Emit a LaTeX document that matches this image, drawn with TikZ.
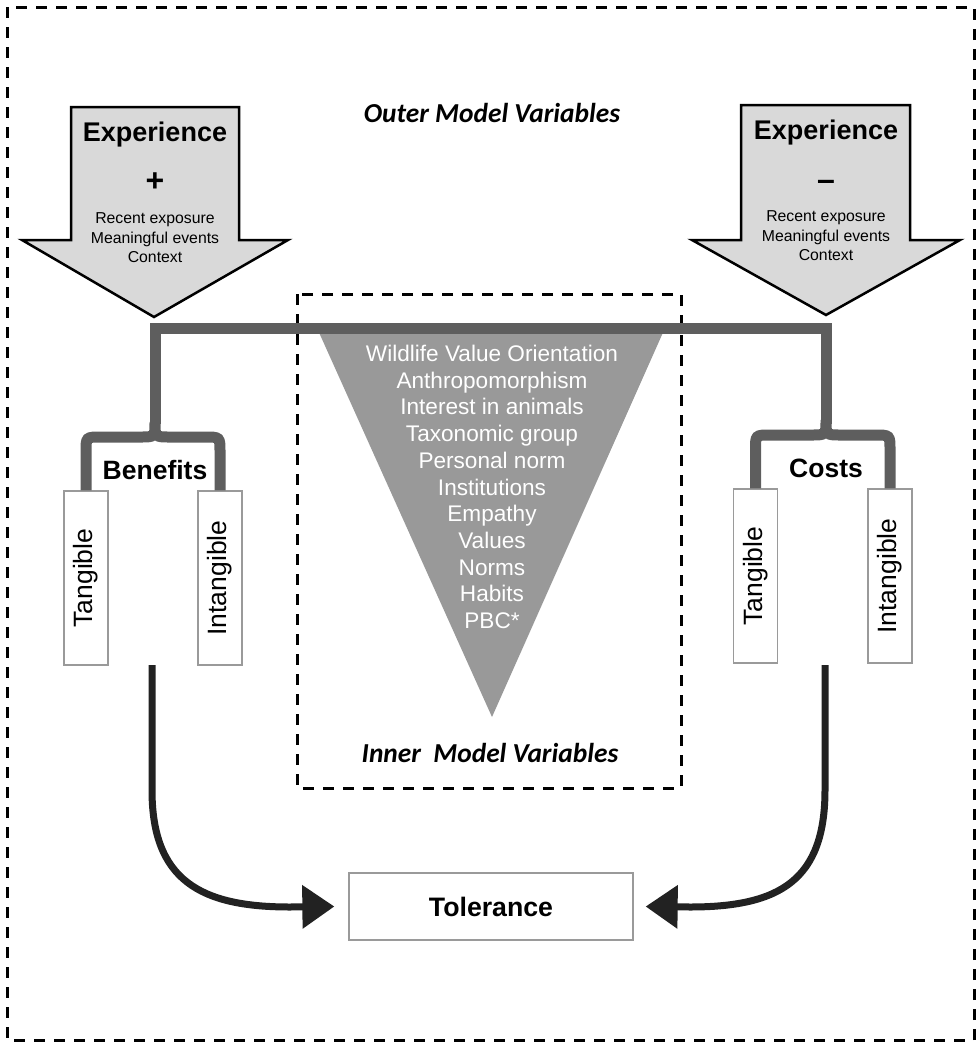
\documentclass[tikz,border=0pt]{standalone}
\usepackage{fontspec}
\setmainfont{Liberation Sans}
\newfontfamily\calib{Carlito}
\usetikzlibrary{arrows.meta}
\definecolor{arrowfill}{HTML}{D9D9D9}
\definecolor{barcol}{HTML}{5E5E5E}
\definecolor{trifill}{HTML}{999999}
\definecolor{boxline}{HTML}{9A9A9A}
\definecolor{curvecol}{HTML}{222222}
\tikzset{
  frame/.style={draw=black, line width=3pt, dash pattern=on 11pt off 9pt},
  bigarrow/.style={draw=black, line width=2.5pt, fill=arrowfill, line join=miter},
  bar/.style={draw=barcol, line width=11pt, line join=miter},
  thinbox/.style={draw=boxline, line width=1.3pt, fill=white, minimum width=44pt, minimum height=174pt, inner sep=0pt},
  rottext/.style={rotate=90, font=\fontsize{26.5}{26.5}\selectfont},
  exptitle/.style={font=\bfseries\fontsize{27}{27}\selectfont},
  expsign/.style={font=\bfseries\fontsize{32}{32}\selectfont},
  expdetail/.style={font=\fontsize{15.8}{19.5}\selectfont, align=center},
  grouplabel/.style={font=\bfseries\fontsize{26.5}{26.5}\selectfont},
  modellabel/.style={font=\calib\bfseries\itshape\fontsize{27.4}{27.4}\selectfont},
  curvearrow/.style={draw=curvecol, line width=7pt, -{Triangle[length=32pt,width=42pt]}},
}
\begin{document}
\begin{tikzpicture}[x=1pt,y=-1pt]
\useasboundingbox (0,0) rectangle (978,1044);
% outer frame
\draw[frame] (7,7) rectangle (974,1040);
% inner frame
\draw[frame] (297,294) rectangle (681,788);
% titles
\node[modellabel] (outer) at (492,113) {Outer Model Variables};
\node[modellabel] (inner) at (490,753) {Inner\ \ Model Variables};
% inverted triangle
\fill[trifill] (317,328) -- (665,328) -- (492,717) -- cycle;
\node[text=white, align=center, font=\fontsize{22.6}{26.7}\selectfont] (inn) at (492,487)
 {Wildlife Value Orientation\\Anthropomorphism\\Interest in animals\\Taxonomic group\\Personal norm\\Institutions\\Empathy\\Values\\Norms\\Habits\\PBC*};
% experience arrows
\draw[bigarrow] (71,107) -- (239,107) -- (239,240) -- (288,240) -- (154,317) -- (22,240) -- (71,240) -- cycle;
\draw[bigarrow] (741,105) -- (910,105) -- (910,240) -- (960,240) -- (826,315) -- (692,240) -- (741,240) -- cycle;
\node[exptitle] (expL) at (155,135) {Experience};
\node[expsign] (plus) at (155,182) {+};
\node[expdetail] (detL) at (155,238) {Recent exposure\\Meaningful events\\Context};
\node[exptitle] (expR) at (826,133) {Experience};
\node[expsign] (minus) at (826,185) {–};
\node[expdetail] (detR) at (826,236) {Recent exposure\\Meaningful events\\Context};
% boxes
\node[thinbox] (tanL) at (86,578) {};
\node[rottext] at (tanL) {Tangible};
\node[thinbox] (intL) at (220,578) {};
\node[rottext] at (intL) {Intangible};
\node[thinbox] (tanR) at (755.5,576) {};
\node[rottext] at (tanR) {Tangible};
\node[thinbox] (intR) at (890,576) {};
\node[rottext] at (intR) {Intangible};
\node[grouplabel] (ben) at (155,470) {Benefits};
\node[grouplabel] (cost) at (826,468) {Costs};
% main bar
\draw[bar] (155,424) -- (155,328) -- (826,328) -- (826,424);
% braces
\draw[bar] (tanL.north) -- (86,452) .. controls (86,437) .. (101,437) -- (140,437) .. controls (155,437) .. (155,422)
  .. controls (155,437) .. (170,437) -- (205,437) .. controls (220,437) .. (220,452) -- (intL.north);
\draw[bar] (tanR.north) -- (755.5,450) .. controls (755.5,435) .. (770,435) -- (811,435) .. controls (826,435) .. (826,420)
  .. controls (826,435) .. (841,435) -- (875,435) .. controls (890,435) .. (890,450) -- (intR.north);
% tolerance
\node[draw=boxline, line width=1.3pt, minimum width=284pt, minimum height=67pt, font=\bfseries\fontsize{26.7}{26.7}\selectfont] (tol) at (491,906.5) {Tolerance};
\coordinate (sL) at (152,665);
\coordinate (sR) at (825,665);
\draw[curvearrow] (sL) -- (152,790) .. controls (152,880) and (200,907) .. (290,907) -- ([xshift=-14pt]tol.west);
\draw[curvearrow] (sR) -- (825,790) .. controls (825,880) and (780,907) .. (690,907) -- ([xshift=12pt]tol.east);
\end{tikzpicture}
\end{document}
